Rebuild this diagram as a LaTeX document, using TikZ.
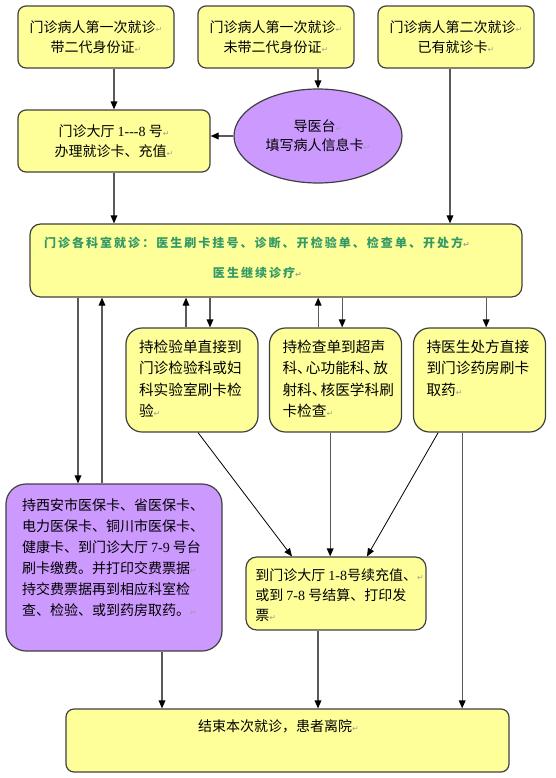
\documentclass[tikz,border=0pt]{standalone}
\usepackage{fontspec}
\setmainfont{Noto Sans CJK SC}
\newfontfamily\numfont{Liberation Serif}
\newfontfamily\markfont{DejaVu Sans}
\newfontfamily\callfont[LetterSpace=17]{Noto Sans CJK SC}
\usepackage{xcolor}
\usepackage{tikz}
\usetikzlibrary{positioning, arrows.meta, calc, shapes.geometric}
\definecolor{CardYellow}{HTML}{FFFF99}
\definecolor{CardPurple}{HTML}{CC99FF}
\definecolor{CardLine}{HTML}{404040}
\definecolor{ArrowGray}{HTML}{595959}
\definecolor{TextGreen}{HTML}{339966}
\definecolor{MarkGray}{HTML}{A0A0A0}
\newcommand{\pmark}{{\markfont\fontsize{6}{6}\selectfont\color{MarkGray}↵}}
\newcommand{\numtxt}[1]{{\numfont #1}}
\newcommand{\topfill}[3]{\parbox[c][#2][t]{#1}{#3}}

\begin{document}
\begin{tikzpicture}[
  x=0.75pt, y=-0.75pt,
  arr/.style={-{Triangle[length=6pt,width=5pt,color=black]}, line width=0.9pt, draw=ArrowGray},
  diag/.style={-{Triangle[length=6pt,width=5pt,color=black]}, line width=0.6pt, draw=black},
  card/.style={draw=CardLine, fill=CardYellow, line width=0.9pt, rounded corners=6pt,
               font=\fontsize{10.5}{15}\selectfont, align=center, inner sep=0pt},
  dcard/.style={card, rounded corners=12pt, inner xsep=9.75pt, inner ysep=9pt,
                font=\fontsize{11}{16.1}\selectfont},
  pcard/.style={card, fill=CardPurple, rounded corners=15pt, inner xsep=12pt,
                inner ysep=11.25pt, font=\fontsize{10.5}{15.75}\selectfont},
]
  \useasboundingbox (0,0) rectangle (556,778);

  % first visit / second visit
  \node[card, minimum width=117pt, minimum height=46.5pt]
    (first) at (96,37) {门诊病人第一次就诊\pmark\\带二代身份证\pmark};
  \node[card, minimum width=117pt, minimum height=46.5pt]
    (noid) at (276,37) {门诊病人第一次就诊\pmark\\未带二代身份证\pmark};
  \node[card, minimum width=117pt, minimum height=46.5pt]
    (second) at (456,37) {门诊病人第二次就诊\pmark\\已有就诊卡\pmark};

  % hall and guide desk
  \node[card, minimum width=144pt, minimum height=46.5pt]
    (hall) at (114,141) {门诊大厅 \numtxt{1-{}-{}-8} 号\pmark\\办理就诊卡、充值\pmark};
  \node[ellipse, draw=CardLine, fill=CardPurple, line width=0.9pt, inner sep=0pt,
        minimum width=126pt, minimum height=70.5pt, align=center,
        font=\fontsize{10.5}{14.5}\selectfont]
    (desk) at (318,136) {导医台\pmark\\填写病人信息卡\pmark};

  % clinic
  \node[card, rounded corners=8pt, inner xsep=10.5pt, inner ysep=9.75pt, align=left,
        text=TextGreen, font=\callfont\bfseries\fontsize{9}{22.5}\selectfont]
    (clinic) at (276,260.5) {\topfill{348pt}{35.25pt}{门诊各科室就诊：医生刷卡挂号、诊断、开检验单、检查单、开处方\pmark\\
      \hspace*{126.75pt}医生继续诊疗\pmark}};

  % lab, exam, pharmacy
  \node[dcard, align=left] (lab) at (192,380)
    {\topfill{79.5pt}{60pt}{持检验单直接到\\门诊检验科或妇\\科实验室刷卡检\\验\pmark}};
  \node[dcard, align=left] (exam) at (335.5,380)
    {\topfill{79.5pt}{60pt}{持检查单到超声\\科、\kern-.4em心功能科、\kern-.4em放\\射科、\kern-.4em核医学科刷\\卡检查\pmark}};
  \node[dcard, align=left] (drug) at (479.5,380)
    {\topfill{79.5pt}{60pt}{持医生处方直接\\到门诊药房刷卡\\取药\pmark}};

  % insurance card payment
  \node[pcard, align=left] (pay) at (114,567.5)
    {\topfill{138pt}{102.75pt}{持西安市医保卡、省医保卡、\\电力医保卡、铜川市医保卡、\\\mbox{健康卡、到门诊大厅 \numtxt{7-9} 号台}\\刷卡缴费。并打印交费票据\pmark\\持交费票据再到相应科室检\\查、检验、或到药房取药。\pmark}};

  % recharge and leave
  \node[card, rounded corners=8pt, inner xsep=7pt, inner ysep=9pt, align=left]
    (charge) at (336,593.5)
    {\topfill{121pt}{36.75pt}{\mbox{到门诊大厅 \numtxt{1-8}号续充值、\pmark}\\\mbox{或到 \numtxt{7-8} 号结算、打印发}\\票\pmark}};
  \node[card, inner xsep=0pt, inner ysep=8.25pt, align=left]
    (leave) at (287.5,740.5)
    {\topfill{332.25pt}{30.75pt}{\hspace*{99pt}结束本次就诊，患者离院\pmark}};

  %% top part
  \draw[arr] (first.south -| hall.north) -- (hall.north);
  \draw[arr] (noid.south -| desk.north) -- (desk.north);
  \draw[arr] (desk.west) -- (desk.west -| hall.east);
  \coordinate (secondOut) at ([xshift=-4.5pt]second.south);
  \draw[arr] (secondOut) -- (secondOut |- clinic.north);
  \draw[arr] (hall.south) -- (hall.south |- clinic.north);

  %% clinic <-> payment
  \coordinate (payIn) at ([xshift=-27pt]pay.north);
  \coordinate (payOut) at ([xshift=-9pt]pay.north);
  \draw[arr] (payIn |- clinic.south) -- (payIn);
  \draw[arr] (payOut) -- (payOut |- clinic.south);

  %% clinic <-> lab, exam, pharmacy
  \coordinate (labIn) at ([xshift=13.5pt]lab.north);
  \coordinate (labOut) at ([xshift=-4.5pt]lab.north);
  \coordinate (examIn) at ([xshift=5pt]exam.north);
  \coordinate (examOut) at ([xshift=-13pt]exam.north);
  \coordinate (drugIn) at ([xshift=5pt]drug.north);
  \draw[arr] (labIn |- clinic.south) -- (labIn);
  \draw[arr] (labOut) -- (labOut |- clinic.south);
  \draw[arr] (examIn |- clinic.south) -- (examIn);
  \draw[arr] (examOut) -- (examOut |- clinic.south);
  \draw[arr] (drugIn |- clinic.south) -- (drugIn);

  %% to recharge
  \draw[diag] ([xshift=4.5pt]lab.south) -- ([xshift=-33pt]charge.north);
  \coordinate (examDown) at ([xshift=-4pt]exam.south);
  \draw[arr] (examDown) -- (examDown |- charge.north);
  \draw[diag] ([xshift=-31pt]drug.south) -- ([xshift=23.25pt]charge.north);

  %% to leave
  \coordinate (payDown) at ([xshift=36pt]pay.south);
  \coordinate (chargeDown) at ([xshift=-13.5pt]charge.south);
  \coordinate (drugDown) at ([xshift=-13pt]drug.south);
  \draw[arr] (payDown) -- (payDown |- leave.north);
  \draw[arr] (chargeDown) -- (chargeDown |- leave.north);
  \draw[arr] (drugDown) -- (drugDown |- leave.north);

\end{tikzpicture}
\end{document}
